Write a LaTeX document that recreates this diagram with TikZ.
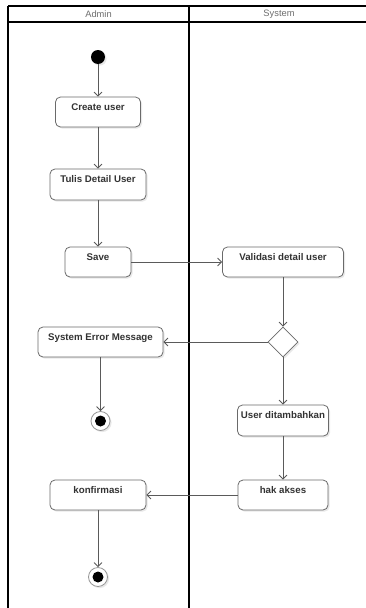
\documentclass[tikz,border=0pt]{standalone}
\usepackage{fontspec}
\setmainfont{Liberation Sans}
\usetikzlibrary{arrows.meta,shapes.geometric,shadows}
\definecolor{edge}{HTML}{5A5A5A}
\definecolor{boxline}{HTML}{6A6A6A}
\definecolor{lanetext}{HTML}{6E6E6E}
\begin{document}
\begin{tikzpicture}[x=1pt,y=-1pt,
  softshadow/.style={drop shadow={opacity=0.18,shadow xshift=1.6pt,shadow yshift=-1.6pt}},
  action/.style={draw=boxline,line width=0.8pt,rounded corners=5pt,fill=white,softshadow,
    font=\bfseries\fontsize{9.7}{11}\selectfont,text=black!80,
    minimum height=30pt,inner ysep=2pt,text height=11pt,text depth=15pt,inner xsep=2pt},
  decision/.style={diamond,draw=boxline,line width=0.8pt,fill=white,softshadow,
    minimum width=30pt,minimum height=30pt,inner sep=0pt},
  startnode/.style={circle,fill=black,minimum size=14pt,inner sep=0pt,softshadow},
  endnode/.style={circle,draw=boxline!70,line width=0.8pt,fill=white,minimum size=19pt,inner sep=0pt,softshadow,
    path picture={\fill[black] (path picture bounding box.center) circle[radius=5.5pt];}},
  flow/.style={draw=edge,line width=0.8pt,-{Straight Barb[length=4pt,width=8pt]}},
  lane/.style={line width=1.1pt,draw=black},
  lanehead/.style={font=\fontsize{9.3}{10}\selectfont,text=lanetext}]
\useasboundingbox (0,0) rectangle (366,608);
\fill[white] (0,0) rectangle (366,608);

% swimlanes
\coordinate (tl) at (8,6);
\coordinate (tr) at (366,6);
\coordinate (hl) at (8,22);
\coordinate (hr) at (366,22);
\coordinate (bl) at (8,608);
\coordinate (dt) at (189,6);
\coordinate (db) at (189,608);
\draw[lane] (tl) -- (tr);
\draw[lane] (hl) -- (hr);
\draw[lane] (tl) -- (bl);
\draw[lane] (dt) -- (db);
\node[lanehead] (adminlbl) at (98.5,14.5) {Admin};
\node[lanehead] (systemlbl) at (279,14.5) {System};

% nodes
\node[startnode] (start) at (98,57) {};
\node[action,minimum width=85pt] (create) at (98,112) {Create user};
\node[action,minimum width=96pt,minimum height=31pt] (tulis) at (98,184.5) {Tulis Detail User};
\node[action,minimum width=66pt] (save) at (98,262) {Save};
\node[action,minimum width=121pt] (validasi) at (283,262) {Validasi detail user};
\node[decision] (dec) at (283,342) {};
\node[action,minimum width=125pt] (error) at (100.5,342) {System Error Message};
\node[endnode] (end1) at (100.5,421) {};
\node[action,minimum width=91pt,minimum height=31pt] (added) at (283,420.5) {User ditambahkan};
\node[action,minimum width=90pt] (akses) at (283,495) {hak akses};
\node[action,minimum width=96pt] (konf) at (98,495) {konfirmasi};
\node[endnode] (end2) at (98,577) {};

% control flow
\draw[flow] (start) -- (create);
\draw[flow] (create) -- (tulis);
\draw[flow] (tulis) -- (save);
\draw[flow] (save) -- (validasi);
\draw[flow] (validasi) -- (dec);
\draw[flow] (dec) -- (error);
\draw[flow] (error) -- (end1);
\draw[flow] (dec) -- (added);
\draw[flow] (added) -- (akses);
\draw[flow] (akses) -- (konf);
\draw[flow] (konf) -- (end2);
\end{tikzpicture}
\end{document}
